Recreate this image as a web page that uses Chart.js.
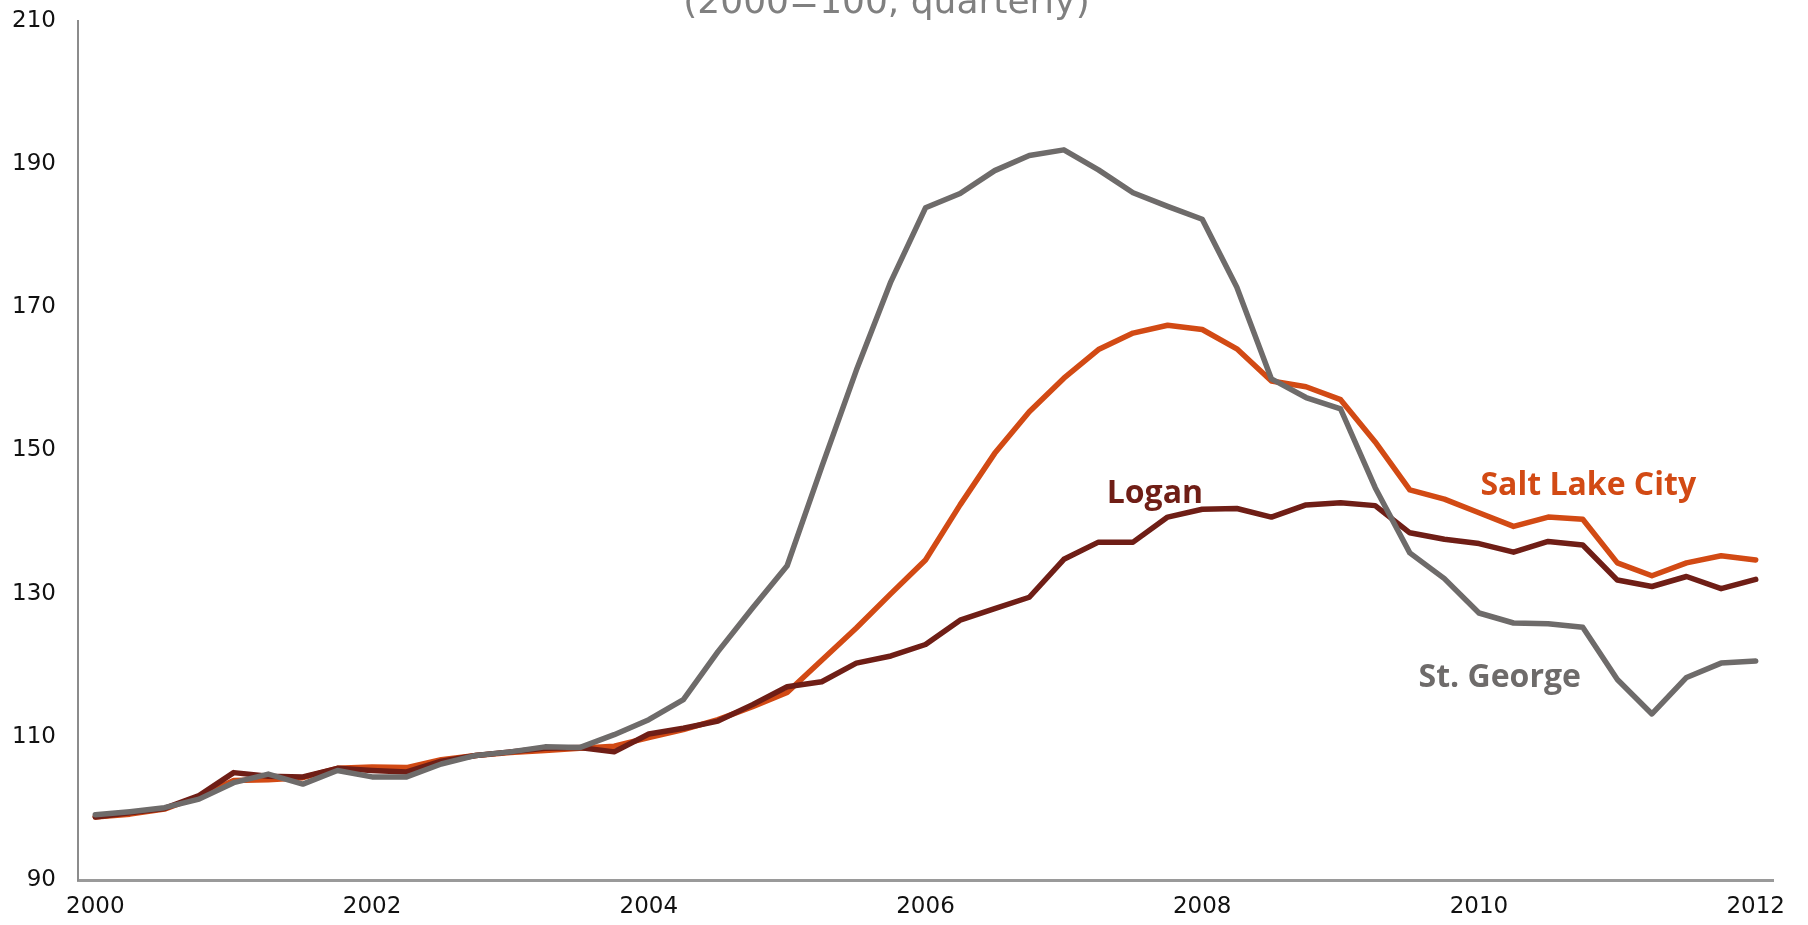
<!DOCTYPE html>
<html>
<head>
<meta charset="utf-8">
<script src="https://cdn.jsdelivr.net/npm/chart.js@4.4.1/dist/chart.umd.min.js"></script>
<style>
  html, body { margin: 0; padding: 0; background: #ffffff; }
  #wrap { width: 1808px; height: 925px; overflow: hidden; position: relative; }
  #c { position: absolute; left: 0; top: -40px; }
</style>
</head>
<body>
<div id="wrap"><canvas id="c" width="1808" height="965"></canvas></div>
<script>
// ---- Data (house price index, 2000=100, quarterly) ----
const years = [2000, 2001, 2002, 2003, 2004, 2005, 2006, 2007, 2008, 2009, 2010, 2011, 2012];
const quarters = ['Q1', 'Q2', 'Q3', 'Q4'];
const categories = [];
years.forEach(y => quarters.forEach(q => { if (y < 2012 || q === 'Q1') categories.push(y + ' ' + q); }));

const yearTickLabels = ['2000', '2002', '2004', '2006', '2008', '2010', '2012'];

const stGeorge = [99.1, 99.55, 100.1, 101.3, 103.6, 104.8, 103.4, 105.3, 104.4, 104.4,
  106.2, 107.4, 107.9, 108.6, 108.5, 110.3, 112.4, 115.2, 121.9, 128.0,
  133.9, 147.7, 161.2, 173.6, 183.9, 185.9, 189.1, 191.2, 192.0, 189.2,
  186.0, 184.1, 182.3, 172.8, 160.0, 157.4, 155.8, 144.8, 135.7, 132.1,
  127.3, 125.9, 125.8, 125.3, 118.0, 113.2, 118.3, 120.3, 120.6];

const saltLakeCity = [98.8, 99.2, 99.9, 101.7, 103.9, 104.0, 104.3, 105.6, 105.8, 105.7,
  106.8, 107.4, 107.8, 108.1, 108.4, 108.7, 109.9, 111.0, 112.4, 114.2,
  116.2, 120.7, 125.2, 130.0, 134.7, 142.4, 149.6, 155.4, 160.1, 164.1,
  166.4, 167.5, 166.9, 164.2, 159.7, 158.9, 157.1, 151.2, 144.5, 143.2,
  141.3, 139.4, 140.7, 140.4, 134.3, 132.5, 134.3, 135.3, 134.7];

const logan = [98.8, 99.4, 100.0, 101.8, 105.0, 104.5, 104.4, 105.6, 105.3, 105.1,
  106.6, 107.4, 107.9, 108.4, 108.5, 107.9, 110.4, 111.2, 112.2, 114.5,
  117.0, 117.7, 120.3, 121.3, 122.9, 126.3, 127.9, 129.5, 134.8, 137.2,
  137.2, 140.7, 141.8, 141.9, 140.7, 142.4, 142.7, 142.3, 138.5, 137.6,
  137.0, 135.8, 137.3, 136.8, 131.9, 131.0, 132.4, 130.7, 132.0];

const seriesNames = ['St. George', 'Logan', 'Salt Lake City'];

// ---- Styles ----
const COLORS = { stGeorge: '#6e6b6a', logan: '#6f1e16', slc: '#d24a14' };

// Series label anchors (category index, value) for the direct labels
const seriesLabelAnchors = [
  { name: 'Salt Lake City', idx: 43.16, val: 143.8, color: COLORS.slc },
  { name: 'Logan', idx: 30.63, val: 142.65, color: COLORS.logan },
  { name: 'St. George', idx: 40.6, val: 117.0, color: COLORS.stGeorge }
];

const directLabels = {
  id: 'directLabels',
  afterDatasetsDraw(chart) {
    const { ctx, scales: { x, y } } = chart;
    ctx.save();
    ctx.font = 'bold 32px "Open Sans", sans-serif';
    ctx.textAlign = 'center';
    ctx.textBaseline = 'alphabetic';
    seriesLabelAnchors.forEach(l => {
      ctx.fillStyle = l.color;
      ctx.fillText(l.name, x.getPixelForValue(l.idx), y.getPixelForValue(l.val));
    });
    ctx.restore();
  }
};

const lineDs = (label, data, color) => ({
  label, data,
  borderColor: color,
  backgroundColor: color,
  borderWidth: 5.5,
  pointRadius: 0,
  pointHoverRadius: 0,
  tension: 0,
  fill: false,
  borderJoinStyle: 'round',
  borderCapStyle: 'round'
});

new Chart(document.getElementById('c'), {
  type: 'line',
  data: {
    labels: categories,
    datasets: [
      lineDs(seriesNames[0], stGeorge, COLORS.stGeorge),
      lineDs(seriesNames[1], logan, COLORS.logan),
      lineDs(seriesNames[2], saltLakeCity, COLORS.slc)
    ]
  },
  options: {
    responsive: false,
    devicePixelRatio: 1,
    animation: false,
    layout: { padding: { left: 0, right: 35, top: 0, bottom: 0 } },
    plugins: {
      legend: { display: false },
      tooltip: { enabled: false },
      title: {
        display: true,
        text: '(2000=100, quarterly)',
        color: '#808080',
        font: { family: '"DejaVu Sans", sans-serif', size: 36, weight: 'normal', lineHeight: 1 },
        padding: { top: 26, bottom: -1 }
      }
    },
    scales: {
      x: {
        type: 'category',
        offset: true,
        grid: { display: false, drawTicks: false },
        border: { display: true, color: '#9a9a9a', width: 3 },
        afterFit: s => { s.height = 45; },
        ticks: {
          autoSkip: false,
          maxRotation: 0,
          minRotation: 0,
          padding: 13,
          color: '#111111',
          font: { family: '"DejaVu Sans", sans-serif', size: 23 },
          callback: function (v, i) {
            const lab = this.getLabelForValue(v);
            const yr = lab.split(' ')[0];
            return (lab.endsWith('Q1') && yearTickLabels.includes(yr)) ? yr : '';
          }
        }
      },
      y: {
        min: 90,
        max: 210,
        grid: { display: false, drawTicks: false },
        border: { display: true, color: '#8c8c8c', width: 2 },
        afterFit: s => { s.width = 78; },
        ticks: {
          stepSize: 20,
          padding: 22,
          color: '#111111',
          font: { family: '"DejaVu Sans", sans-serif', size: 23 }
        }
      }
    }
  },
  plugins: [directLabels]
});
</script>
</body>
</html>
